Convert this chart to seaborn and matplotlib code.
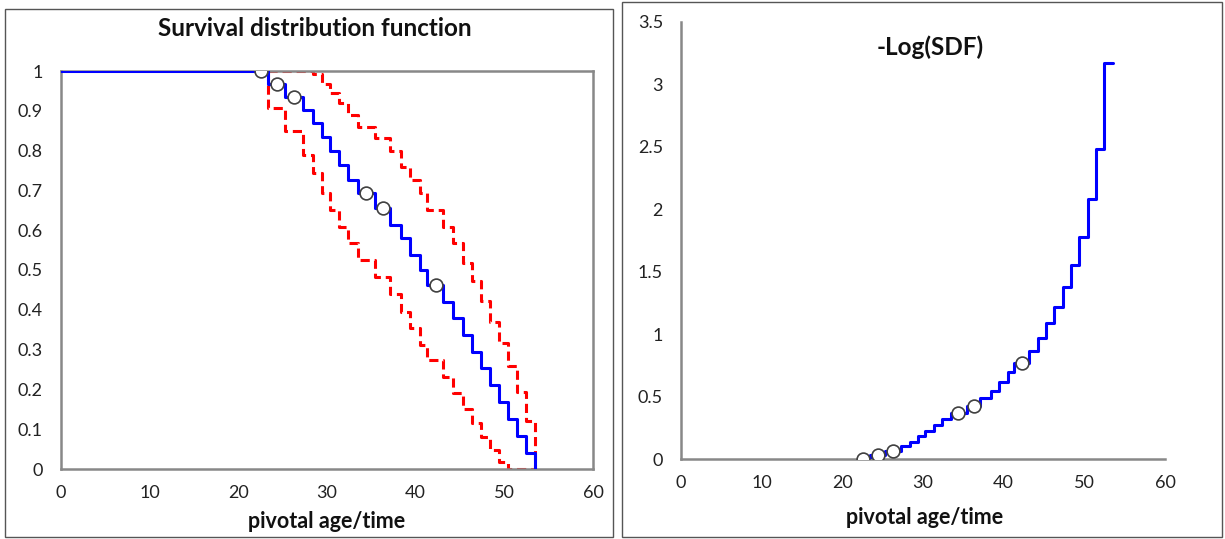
import matplotlib
matplotlib.use('Agg')
import matplotlib.pyplot as plt
import seaborn as sns
import pandas as pd
from matplotlib.patches import Rectangle

# Kaplan-Meier estimate
event_times = [23.4, 25.3, 27.3, 28.4, 29.4, 30.3, 31.4, 32.4, 33.5, 35.4, 37.1, 38.4, 39.4,
               40.5, 41.3, 43.1, 44.2, 45.3, 46.3, 47.4, 48.4, 49.4, 50.4, 51.4, 52.4, 53.5]
sdf = [0.967, 0.935, 0.902, 0.869, 0.833, 0.800, 0.764, 0.726, 0.693, 0.655, 0.613, 0.580, 0.538,
       0.500, 0.462, 0.420, 0.379, 0.337, 0.295, 0.253, 0.211, 0.169, 0.125, 0.083, 0.041, 0.0]
sdf_upper = [1.0, 1.0, 1.0, 0.992, 0.967, 0.944, 0.919, 0.889, 0.860, 0.831, 0.800, 0.760, 0.726,
             0.693, 0.651, 0.609, 0.567, 0.517, 0.473, 0.423, 0.370, 0.316, 0.259, 0.194, 0.121, 0.0]
sdf_lower = [0.906, 0.848, 0.789, 0.743, 0.693, 0.651, 0.609, 0.567, 0.525, 0.483, 0.440, 0.395, 0.354,
             0.312, 0.274, 0.232, 0.190, 0.150, 0.115, 0.081, 0.048, 0.018, 0.0, 0.0, 0.0, 0.0]

# -Log(SDF) panel
log_times = [22.6, 23.4, 25.3, 27.3, 28.4, 29.4, 30.3, 31.4, 32.4, 33.5, 35.4, 37.1, 38.4, 39.4,
             40.5, 41.3, 43.1, 44.2, 45.3, 46.3, 47.4, 48.4, 49.4, 50.4, 51.4, 52.4, 53.5]
neg_log_sdf = [0.0, 0.034, 0.067, 0.103, 0.140, 0.183, 0.223, 0.269, 0.320, 0.367, 0.423, 0.489, 0.545,
               0.620, 0.693, 0.772, 0.868, 0.970, 1.088, 1.221, 1.374, 1.556, 1.778, 2.079, 2.485, 3.17, 3.17]

# censored observations (circles)
censor_times = [22.6, 24.4, 26.3, 34.4, 36.3, 42.3]
censor_sdf = [1.0, 0.967, 0.935, 0.693, 0.655, 0.462]
censor_neg_log = [0.0, 0.034, 0.067, 0.367, 0.423, 0.772]

x_ticks = [0, 10, 20, 30, 40, 50, 60]
left_y_ticks = [0, 0.1, 0.2, 0.3, 0.4, 0.5, 0.6, 0.7, 0.8, 0.9, 1]
left_y_labels = ['0', '0.1', '0.2', '0.3', '0.4', '0.5', '0.6', '0.7', '0.8', '0.9', '1']
right_y_ticks = [0, 0.5, 1, 1.5, 2, 2.5, 3, 3.5]
right_y_labels = ['0', '0.5', '1', '1.5', '2', '2.5', '3', '3.5']

sns.set_style('white')
plt.rcParams['font.family'] = ['Lato', 'DejaVu Sans']

km = pd.DataFrame({'time': [0.0] + event_times, 'sdf': [1.0] + sdf})
band = pd.DataFrame({'time': [event_times[0]] + event_times,
                     'upper': [1.0] + sdf_upper,
                     'lower': [1.0] + sdf_lower})
logdf = pd.DataFrame({'time': log_times, 'nlog': neg_log_sdf})
cens = pd.DataFrame({'time': censor_times, 'sdf': censor_sdf, 'nlog': censor_neg_log})

fig = plt.figure(figsize=(12.25, 5.39), dpi=100)
ax1 = fig.add_axes([61 / 1225, 1 - 469 / 539, 532 / 1225, 398 / 539])
ax2 = fig.add_axes([681 / 1225, 1 - 459 / 539, 484 / 1225, 437 / 539])

blue = '#0000FF'
red = '#FF0000'
step_kw = dict(drawstyle='steps-post', estimator=None, sort=False, lw=2.2)
circle_kw = dict(marker='o', s=85, facecolor='white', edgecolor='#404040', linewidth=1.2,
                 zorder=5, legend=False)

# left: survival distribution function with confidence band
sns.lineplot(data=band, x='time', y='upper', ax=ax1, color=red, linestyle=(0, (3, 1.6)),
             zorder=2, **step_kw)
sns.lineplot(data=band, x='time', y='lower', ax=ax1, color=red, linestyle=(0, (3, 1.6)),
             zorder=2, **step_kw)
sns.lineplot(data=km, x='time', y='sdf', ax=ax1, color=blue, zorder=3, **step_kw)
sns.scatterplot(data=cens, x='time', y='sdf', ax=ax1, **circle_kw)

# right: -log(SDF)
sns.lineplot(data=logdf, x='time', y='nlog', ax=ax2, color=blue, zorder=3, **step_kw)
sns.scatterplot(data=cens, x='time', y='nlog', ax=ax2, **circle_kw)

for ax, yt, yl, ymax in [(ax1, left_y_ticks, left_y_labels, 1), (ax2, right_y_ticks, right_y_labels, 3.5)]:
    ax.set_xlim(0, 60)
    ax.set_ylim(0, ymax)
    ax.set_xticks(x_ticks)
    ax.set_xticklabels([str(t) for t in x_ticks])
    ax.set_yticks(yt)
    ax.set_yticklabels(yl)
    ax.set_xlabel('')
    ax.set_ylabel('')
    ax.tick_params(axis='x', direction='inout', length=9, width=1.2, color='#888888',
                   labelsize=13, labelcolor='#222222', pad=7)
    ax.tick_params(axis='y', direction='out', length=5, width=1.2, color='#888888',
                   labelsize=13, labelcolor='#222222', pad=8)
    for sp in ax.spines.values():
        sp.set_visible(True)
        sp.set_color('#888888')
        sp.set_linewidth(1.8)
    ax.patch.set_alpha(0)

ax2.spines['top'].set_visible(False)
ax2.spines['right'].set_visible(False)

fig.text(315 / 1225, 1 - 28 / 539, 'Survival distribution function', ha='center', va='center',
         fontsize=17.5, fontweight='bold', color='#111111')
fig.text(327 / 1225, 1 - 521 / 539, 'pivotal age/time', ha='center', va='center',
         fontsize=15.5, fontweight='bold', color='#111111')
fig.text(930 / 1225, 1 - 47 / 539, '-Log(SDF)', ha='center', va='center',
         fontsize=17.5, fontweight='bold', color='#111111')
fig.text(925 / 1225, 1 - 517 / 539, 'pivotal age/time', ha='center', va='center',
         fontsize=15.5, fontweight='bold', color='#111111')

# chart frames
fig.add_artist(Rectangle((5 / 1225, 2 / 539), 608 / 1225, 528 / 539, transform=fig.transFigure,
                         fill=False, edgecolor='#555555', lw=1.0))
fig.add_artist(Rectangle((622 / 1225, 2 / 539), 600 / 1225, 535 / 539, transform=fig.transFigure,
                         fill=False, edgecolor='#555555', lw=1.0))

fig.savefig('out.png', dpi=100)
